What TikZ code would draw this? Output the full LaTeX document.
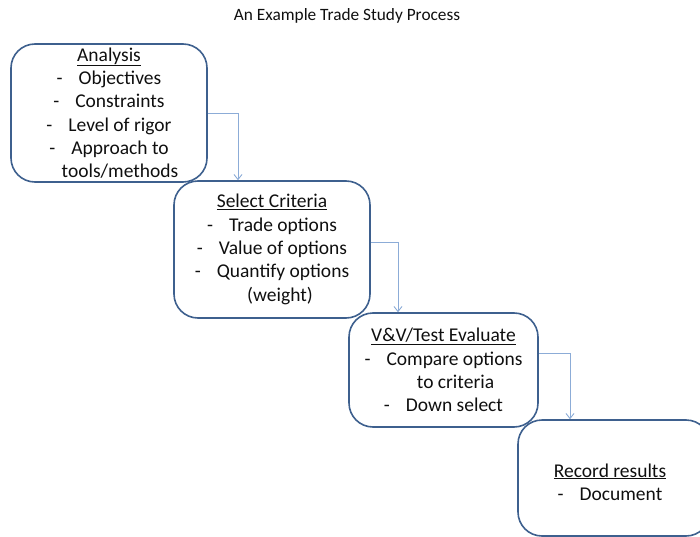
\documentclass[tikz,border=0pt]{standalone}
\usepackage{fontspec}
\setmainfont{Carlito}
\usetikzlibrary{arrows.meta}
\definecolor{boxline}{RGB}{62,96,142}
\definecolor{flowline}{RGB}{140,172,215}
\definecolor{ink}{RGB}{15,15,15}
\tikzset{
  stepbox/.style={draw=boxline, line width=1.6pt, rounded corners=24pt,
    inner sep=0pt, text=ink, align=center,
    font=\fontsize{19.5}{23.3}\selectfont},
  steptext/.style={inner sep=0pt, text=ink, align=center,
    font=\fontsize{19.5}{23.3}\selectfont},
  flow/.style={draw=flowline, line width=0.9pt,
    -{Straight Barb[length=5pt,width=8pt]}},
  heading/.style={font=\fontsize{17.3}{20}\selectfont, text=ink}
}
\newcommand{\itm}[1]{-\hspace{16pt}#1}
\begin{document}
\begin{tikzpicture}[x=1pt,y=-1pt]
\useasboundingbox (0,0) rectangle (700,537);
\clip (0,0) rectangle (700,537);

\node[heading] (title) at (347,16) {An Example Trade Study Process};

\node[stepbox, minimum width=196pt, minimum height=138pt] (analysis) at (109,113)
  {\underline{Analysis}\\ \itm{Objectives}\\ \itm{Constraints}\\ \itm{Level of rigor}\\
   \itm{Approach to}\\ \hspace*{22pt}tools/methods};

\node[stepbox, minimum width=196pt, minimum height=137pt] (criteria) at (272,249.5)
  {\underline{Select Criteria}\\ \itm{Trade options}\\ \itm{Value of options}\\
   \itm{Quantify options}\\ \hspace*{16pt}(weight)};

\node[stepbox, minimum width=189pt, minimum height=114pt] (evaluate) at (443.5,370)
  {\underline{V\&V/Test Evaluate}\\ \itm{Compare options}\\ \hspace*{24pt}to criteria\\
   \itm{Down select}};

\node[stepbox, minimum width=192pt, minimum height=116pt] (record) at (614,478) {};
\node[steptext] (recordtext) at (610,482)
  {\underline{Record results}\\ \itm{Document}};

\coordinate (d1) at (238,0);
\coordinate (d2) at (398,0);
\coordinate (d3) at (570,0);

\draw[flow] (analysis.east) -| (d1 |- criteria.north);
\draw[flow] ([yshift=7.5pt]criteria.east) -| (d2 |- evaluate.north);
\draw[flow] ([yshift=17pt]evaluate.east) -| (d3 |- record.north);
\end{tikzpicture}
\end{document}
